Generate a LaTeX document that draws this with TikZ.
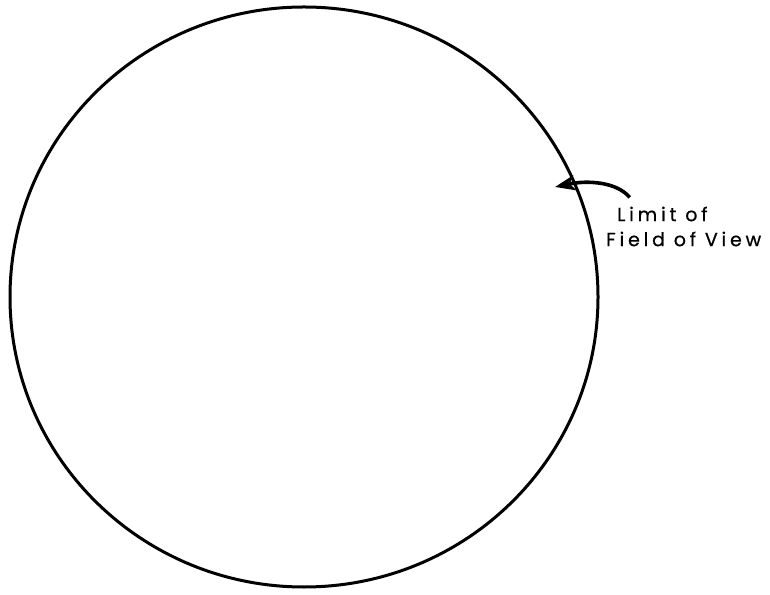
\documentclass[tikz,border=0pt]{standalone}
\usepackage{fontspec}
\setsansfont{Poppins}[LetterSpace=20,FakeBold=0.6]
\usepackage{tikz}
\usetikzlibrary{arrows.meta,positioning}

\begin{document}
\begin{tikzpicture}[x=1pt,y=1pt,
  lbl/.style={font=\sffamily\fontsize{19}{22}\selectfont,inner sep=0pt,anchor=west}]
\useasboundingbox (0,0) rectangle (770,594);
\draw[line width=3pt] (304,297) ellipse [x radius=294, y radius=290];
\coordinate (rim) at (555,407);
\node[lbl] (lim) at (617,380) {Limit of};
\node[lbl] (fov) at (606,355) {Field of View};
\draw[line width=3.6pt,-{Stealth[length=20pt,width=15pt,inset=5pt]}] ([xshift=-78pt,yshift=9pt]lim.north east) .. controls (617,412) and (588,414) .. (rim);
\end{tikzpicture}
\end{document}
